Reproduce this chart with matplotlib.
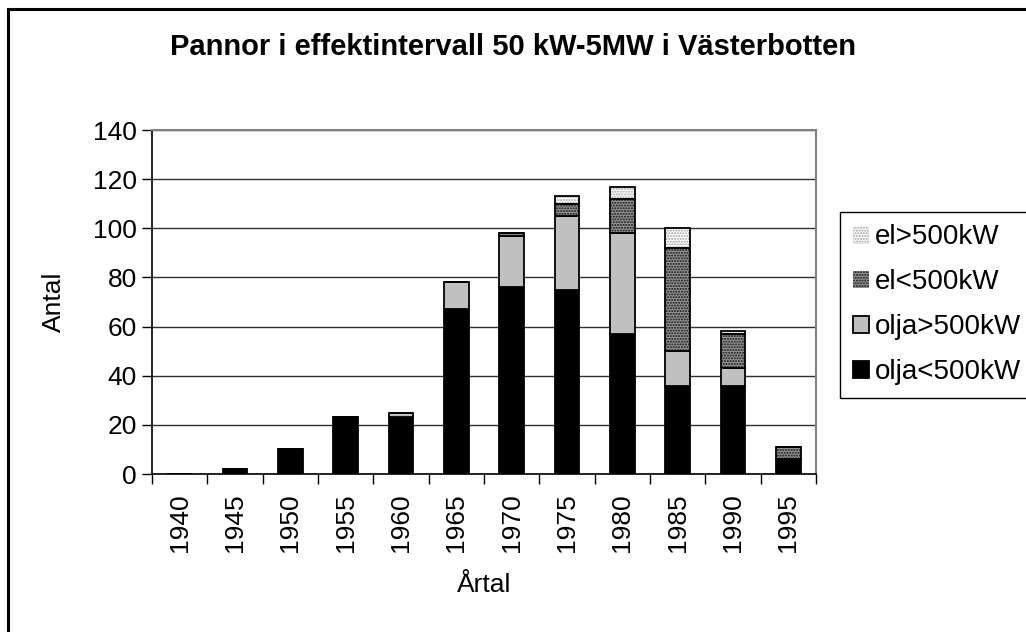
import numpy as np
import matplotlib
matplotlib.use("Agg")
import matplotlib.pyplot as plt
from matplotlib.patches import Patch, Rectangle

plt.rcParams['font.family'] = ['Liberation Sans', 'DejaVu Sans']

years = ['1940', '1945', '1950', '1955', '1960', '1965', '1970', '1975', '1980', '1985', '1990', '1995']
olja_small = [0, 2, 10, 23, 23, 67, 76, 75, 57, 36, 36, 6]
olja_big = [0, 0, 0, 0, 2, 11, 21, 30, 41, 14, 7, 0]
el_small = [0, 0, 0, 0, 0, 0, 1, 5, 14, 42, 14, 5]
el_big = [0, 0, 0, 0, 0, 0, 0, 3, 5, 8, 1, 0]

series = [
    ('olja<500kW', olja_small, 'black', None, None),
    ('olja>500kW', olja_big, '#c0c0c0', None, None),
    ('el<500kW', el_small, '#969696', '......', '#101010'),
    ('el>500kW', el_big, 'white', '......', '#a0a0a0'),
]

FS = 19

fig = plt.figure(figsize=(10.26, 6.32), dpi=100)
ax = fig.add_axes([152 / 1026, 1 - 474 / 632, (816 - 152) / 1026, (474 - 130) / 632])

x = np.arange(len(years))
width = 0.45
bottom = np.zeros(len(years))
handles = []
for name, vals, color, hatch, hcolor in series:
    vals = np.array(vals, dtype=float)
    if hatch:
        ax.bar(x, vals, width, bottom=bottom, color=color, hatch=hatch,
               edgecolor=hcolor, linewidth=0, zorder=3)
        ax.bar(x, vals, width, bottom=bottom, fill=False,
               edgecolor='black', linewidth=1.3, zorder=4)
        hp = Patch(facecolor=color, hatch=hatch, edgecolor=hcolor, linewidth=0)
    else:
        ax.bar(x, vals, width, bottom=bottom, color=color,
               edgecolor='black', linewidth=1.3, zorder=3)
        hp = Patch(facecolor=color, edgecolor='black', linewidth=1.3)
    handles.append((hp, name))
    bottom += vals

ax.set_xlim(-0.5, len(years) - 0.5)
ax.set_ylim(0, 140)
ax.set_yticks(range(0, 141, 20))
ax.set_xticks(x)
ax.set_xticklabels(years, rotation=90, fontsize=FS)
ax.set_xticks(np.arange(-0.5, len(years), 1), minor=True)
ax.tick_params(axis='x', which='major', length=0, pad=14)
ax.tick_params(axis='x', which='minor', length=7, width=1, direction='out')
ax.tick_params(axis='y', length=7, width=1, direction='out', labelsize=FS, pad=4)
ax.yaxis.grid(True, color='#303030', linewidth=1, zorder=0)
ax.set_axisbelow(True)
for s in ['top', 'right']:
    ax.spines[s].set_color('#808080')
    ax.spines[s].set_linewidth(1.5)
ax.spines['left'].set_linewidth(1.2)
ax.spines['bottom'].set_linewidth(1.2)

ax.set_ylabel('Antal', fontsize=FS, labelpad=19)
ax.set_xlabel('Årtal', fontsize=FS, labelpad=15)

fig.text(0.5, 1 - 47 / 632, 'Pannor i effektintervall 50 kW-5MW i Västerbotten',
         ha='center', va='center', fontsize=21, fontweight='bold')

h = [p for p, n in handles][::-1]
l = [n for p, n in handles][::-1]
leg = fig.legend(h, l, loc='upper left', bbox_to_anchor=(840 / 1026, 1 - 212 / 632),
                 bbox_transform=fig.transFigure, borderaxespad=0, fontsize=20,
                 handlelength=0.6, handleheight=0.6, handletextpad=0.2,
                 labelspacing=0.68, fancybox=False, framealpha=1, borderpad=0.45)
leg.get_frame().set_edgecolor('black')
leg.get_frame().set_linewidth(1)

# chart area border (left and top visible, rest off the image)
fig.patches.append(Rectangle((8 / 1026, -0.1), 1.2, 1 - 9 / 632 + 0.1, transform=fig.transFigure,
                             fill=False, edgecolor='black', linewidth=2.2))

fig.savefig('out.png', dpi=100)
